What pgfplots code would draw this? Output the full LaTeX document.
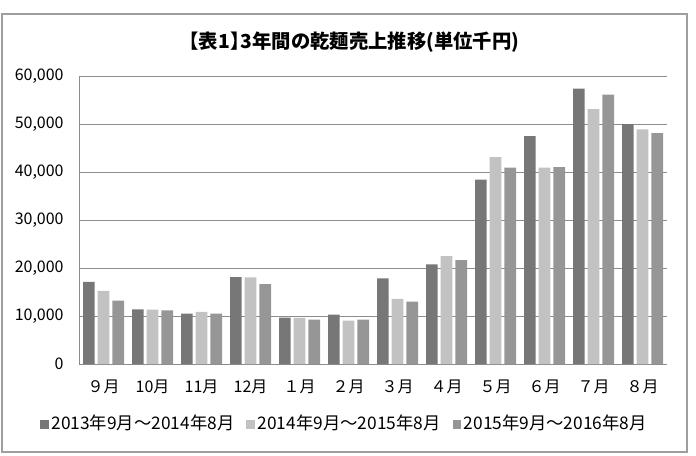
\documentclass[border=0pt]{standalone}
\usepackage{fontspec}
\setmainfont{Noto Sans CJK JP}
\usepackage{pgfplots}
\pgfplotsset{compat=1.18}
\definecolor{sA}{HTML}{777777}
\definecolor{sB}{HTML}{C2C2C2}
\definecolor{sC}{HTML}{969696}
\definecolor{gridc}{HTML}{8C8C8C}
\begin{document}
\begin{tikzpicture}
\path[use as bounding box] (0,0) rectangle (522pt,341.25pt);
\draw[color=black!38, line width=1.3pt] (1.5pt,2.25pt) rectangle (515.25pt,330.75pt);
\node[font=\fontsize{14.5}{16}\selectfont\bfseries] at (265pt,309.75pt) {\kern-0.4em【表1】\kern-0.45em 3年間の乾麺売上推移(単位千円)};
\begin{axis}[
  at={(59.25pt,68.25pt)}, anchor=south west,
  scale only axis, width=441pt, height=215.6pt,
  ybar=2.25pt, bar width=8.75pt,
  xmin=-0.5, xmax=11.5, ymin=0, ymax=60000,
  xtick={0,...,11},
  xticklabels={９月,10月,11月,12月,１月,２月,３月,４月,５月,６月,７月,８月},
  ytick={0,10000,...,60000},
  scaled y ticks=false,
  /pgf/number format/1000 sep={,},
  /pgf/number format/assume math mode=true,
  tick style={draw=none},
  ymajorgrids, grid style={color=gridc, line width=0.7pt},
  axis x line*=bottom, axis y line*=left,
  axis line style={color=gridc, line width=0.7pt, -},
  ticklabel style={font=\fontsize{12}{14}\selectfont},
  xticklabel style={yshift=-4pt},
  yticklabel style={xshift=-8pt},
  legend columns=3,
  legend style={draw=none, fill=none, font=\fontsize{13}{15}\selectfont,
    at={(0.452,-0.205)}, anchor=center,
    /tikz/every even column/.append style={column sep=7pt}},
  legend image code/.code={\fill[#1] (0pt,-4.5pt) rectangle (6.5pt,2pt);},
]
\addplot[fill=sA, draw=none] coordinates {(0,17160) (1,11410) (2,10520) (3,18130) (4,9690) (5,10310) (6,17850) (7,20770) (8,38470) (9,47570) (10,57500) (11,50070)};
\addplot[fill=sB, draw=none] coordinates {(0,15290) (1,11340) (2,10870) (3,18060) (4,9620) (5,9030) (6,13600) (7,22500) (8,43190) (9,40970) (10,53200) (11,48960)};
\addplot[fill=sC, draw=none] coordinates {(0,13220) (1,11200) (2,10520) (3,16680) (4,9270) (5,9240) (6,13000) (7,21670) (8,40970) (9,41100) (10,56250) (11,48200)};
\legend{2013年9月～2014年8月,2014年9月～2015年8月,2015年9月～2016年8月}
\end{axis}
\end{tikzpicture}
\end{document}
